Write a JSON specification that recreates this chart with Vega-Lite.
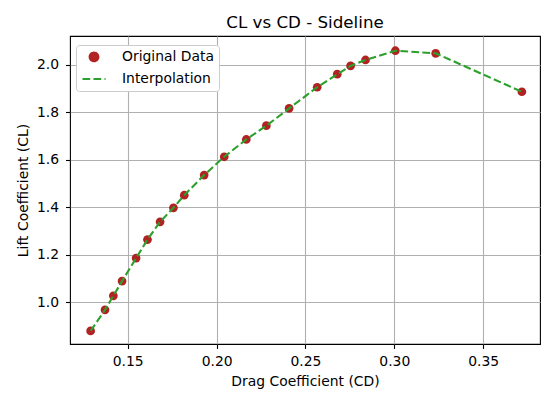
{
  "$schema": "https://vega.github.io/schema/vega-lite/v6.json",
  "width": 470,
  "height": 308,
  "autosize": {"type": "none"},
  "padding": {"left": 70, "top": 36, "right": 4, "bottom": 50},
  "background": "white",
  "title": {
    "text": "CL vs CD - Sideline",
    "font": "DejaVu Sans",
    "fontSize": 16.7,
    "fontWeight": "normal",
    "color": "black",
    "anchor": "middle",
    "offset": 4
  },
  "config": {
    "view": {"stroke": "black", "strokeWidth": 1.1},
    "axis": {
      "labelFont": "DejaVu Sans",
      "labelFontSize": 13.9,
      "labelColor": "black",
      "titleFont": "DejaVu Sans",
      "titleFontSize": 13.9,
      "titleFontWeight": "normal",
      "titleColor": "black",
      "tickColor": "black",
      "tickSize": 4.5,
      "tickWidth": 1.1,
      "domain": false,
      "grid": true,
      "gridColor": "#b0b0b0",
      "gridWidth": 1.1
    }
  },
  "data": {
    "values": [
      {"cd": 0.1291, "cl": 0.879},
      {"cd": 0.1372, "cl": 0.968},
      {"cd": 0.1419, "cl": 1.027},
      {"cd": 0.1468, "cl": 1.089},
      {"cd": 0.1547, "cl": 1.186},
      {"cd": 0.1611, "cl": 1.264},
      {"cd": 0.1682, "cl": 1.339},
      {"cd": 0.1757, "cl": 1.398},
      {"cd": 0.1818, "cl": 1.451},
      {"cd": 0.193, "cl": 1.536},
      {"cd": 0.2043, "cl": 1.613},
      {"cd": 0.2167, "cl": 1.686},
      {"cd": 0.228, "cl": 1.744},
      {"cd": 0.2408, "cl": 1.817},
      {"cd": 0.2566, "cl": 1.906},
      {"cd": 0.2679, "cl": 1.961},
      {"cd": 0.2754, "cl": 1.996},
      {"cd": 0.2838, "cl": 2.021},
      {"cd": 0.3006, "cl": 2.06},
      {"cd": 0.3233, "cl": 2.049},
      {"cd": 0.3718, "cl": 1.887}
    ]
  },
  "encoding": {
    "x": {
      "field": "cd",
      "type": "quantitative",
      "title": "Drag Coefficient (CD)",
      "scale": {"domain": [0.1175, 0.382], "nice": false, "zero": false},
      "axis": {"values": [0.15, 0.2, 0.25, 0.3, 0.35], "format": ".2f", "labelPadding": 5.5, "titlePadding": 7}
    },
    "y": {
      "field": "cl",
      "type": "quantitative",
      "title": "Lift Coefficient (CL)",
      "scale": {"domain": [0.824, 2.122], "nice": false, "zero": false},
      "axis": {"values": [1.0, 1.2, 1.4, 1.6, 1.8, 2.0], "format": ".1f", "labelPadding": 7, "titlePadding": 6}
    }
  },
  "layer": [
    {
      "mark": {"type": "point", "filled": true, "opacity": 1},
      "encoding": {
        "color": {
          "datum": "Original Data",
          "type": "nominal",
          "scale": {"domain": ["Original Data", "Interpolation"], "range": ["#b22222", "#2ca02c"]},
          "legend": {
            "title": null,
            "orient": "none",
            "legendX": 6,
            "legendY": 9,
            "fillColor": "white",
            "strokeColor": "#cccccc",
            "cornerRadius": 3,
            "padding": 5,
            "rowPadding": 0,
            "symbolStrokeWidth": 2.1,
            "labelOffset": 15,
            "labelFont": "DejaVu Sans",
            "labelFontSize": 13.9,
            "labelColor": "black"
          }
        },
        "shape": {
          "datum": "Original Data",
          "type": "nominal",
          "scale": {"domain": ["Original Data", "Interpolation"], "range": ["circle", "stroke"]}
        },
        "size": {
          "datum": "Original Data",
          "type": "nominal",
          "scale": {"domain": ["Original Data", "Interpolation"], "range": [76, 529]}
        }
      }
    },
    {
      "mark": {"type": "line", "strokeWidth": 2.1},
      "encoding": {
        "color": {"datum": "Interpolation", "type": "nominal"},
        "strokeDash": {
          "datum": "Interpolation",
          "type": "nominal",
          "scale": {"domain": ["Original Data", "Interpolation"], "range": [[1, 0], [7.7, 3.3]]}
        }
      }
    }
  ]
}
